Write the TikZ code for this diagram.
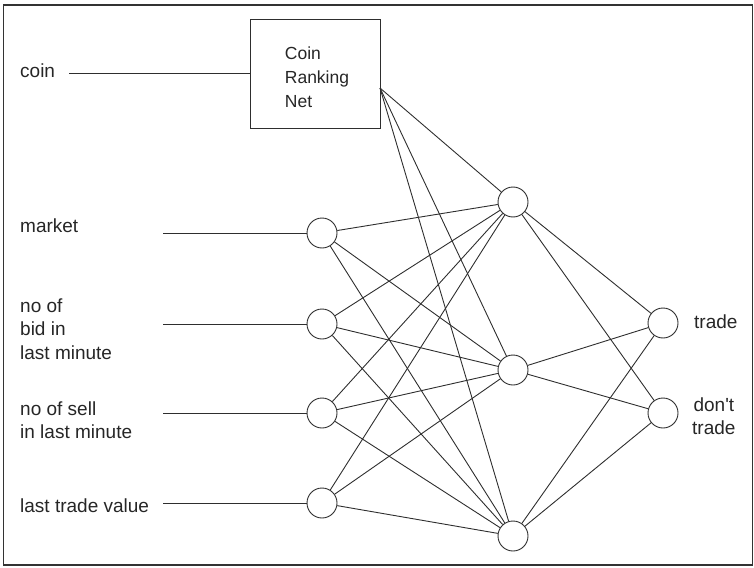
\documentclass[tikz,border=0pt]{standalone}
\usepackage{fontspec}
\setmainfont{Liberation Sans}
\begin{document}
\begin{tikzpicture}[x=1pt,y=-1pt,
  font=\fontsize{19}{23.5}\selectfont,
  wire/.style={draw=black!82, line width=0.9pt},
  neuron/.style={circle, draw=black!82, line width=0.9pt, fill=white, minimum size=30pt, inner sep=0pt},
  label/.style={anchor=west, align=left, inner sep=0pt, text=black!85},
  netbox/.style={draw=black!82, line width=0.9pt, minimum width=130pt, minimum height=109pt},
  nettext/.style={align=left, inner sep=0pt, text=black!85, font=\fontsize{17.5}{24}\selectfont}]
\useasboundingbox (0,0) rectangle (754,567);
\draw[draw=black!80, line width=1.6pt] (3.5,5) rectangle (752.5,565);

% coin ranking sub-network
\node[netbox] (net) at (315,73.5) {};
\node[nettext] (nettitle) at (317,77) {Coin\\Ranking\\Net};
\node[label] (coin) at (20,71) {coin};
\coordinate (coinend) at (69,73);
\draw[wire] (coinend) -- (net.west |- coinend);
\coordinate (netout) at (380,88);

% input layer
\node[neuron] (i1) at (322,233) {};
\node[neuron] (i2) at (322,324) {};
\node[neuron] (i3) at (322,413) {};
\node[neuron] (i4) at (322,503) {};

% hidden layer
\node[neuron] (h1) at (513,202) {};
\node[neuron] (h2) at (513,370) {};
\node[neuron] (h3) at (513,536) {};

% output layer
\node[neuron] (o1) at (663,323) {};
\node[neuron] (o2) at (663,413) {};

% input labels and feed lines
\node[label] (l1) at (20,226) {market};
\node[label] (l2) at (20,329) {no of\\bid in\\last minute};
\node[label] (l3) at (20,420) {no of sell\\in last minute};
\node[label] (l4) at (20,506) {last trade value};
\foreach \k/\y in {1/233,2/324,3/413,4/503}{
  \coordinate (in\k) at (163,\y);
  \draw[wire] (in\k) -- (i\k);
}

% output labels
\node[label] (t1) at (694,322) {trade};
\node[label, align=center] (t2) at (692,416) {don\textquotesingle t\\trade};

% connections
\foreach \h in {1,2,3}{
  \draw[wire] (netout) -- (h\h);
  \foreach \i in {1,2,3,4}{ \draw[wire] (i\i) -- (h\h); }
  \foreach \o in {1,2}{ \draw[wire] (h\h) -- (o\o); }
}
\end{tikzpicture}
\end{document}
